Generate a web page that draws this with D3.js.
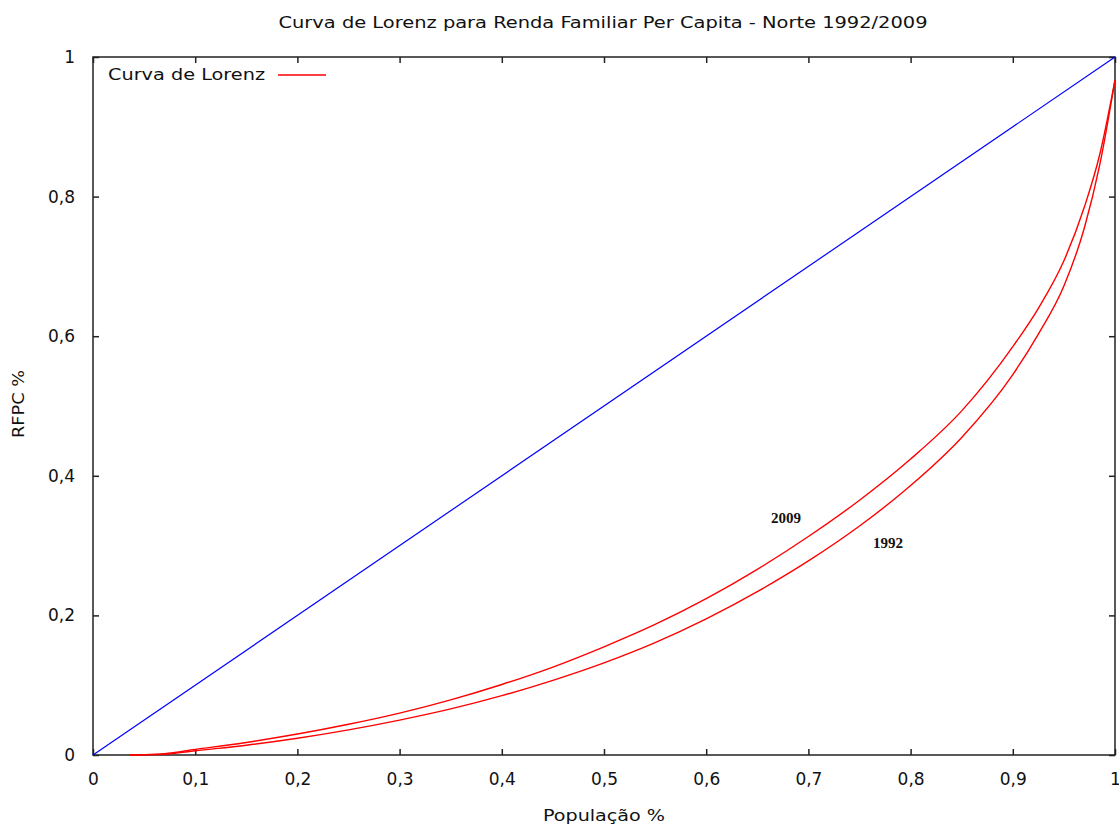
<!DOCTYPE html>
<html>
<head>
<meta charset="utf-8">
<script src="https://cdn.jsdelivr.net/npm/d3@7"></script>
<style>
  body { margin: 0; background: #fff; }
  text { font-family: "DejaVu Sans", Verdana, sans-serif; fill: #111; }
</style>
</head>
<body>
<div class="canvas"></div>
<script>
// data
const pop = [0.036, 0.07, 0.1, 0.15, 0.2, 0.25, 0.3, 0.35, 0.4, 0.45, 0.5, 0.55, 0.6, 0.65, 0.7, 0.75, 0.8, 0.85, 0.9, 0.925, 0.95, 0.97, 0.985, 1.0];
const rend2009 = [0, 0.002, 0.008, 0.018, 0.030, 0.044, 0.060, 0.079, 0.101, 0.126, 0.155, 0.187, 0.224, 0.266, 0.313, 0.365, 0.424, 0.493, 0.585, 0.640, 0.708, 0.785, 0.860, 0.967];
const rend1992 = [0, 0.001, 0.006, 0.014, 0.024, 0.036, 0.050, 0.066, 0.085, 0.107, 0.132, 0.161, 0.195, 0.234, 0.278, 0.328, 0.386, 0.455, 0.545, 0.603, 0.672, 0.755, 0.845, 0.967];
const equality = [0, 1];
const xTicks = [0, 0.1, 0.2, 0.3, 0.4, 0.5, 0.6, 0.7, 0.8, 0.9, 1];
const yTicks = [0, 0.2, 0.4, 0.6, 0.8, 1];

const width = 1119, height = 824;
const margin = { top: 57, right: 4, bottom: 69, left: 93 };
const graphWidth = width - margin.left - margin.right;
const graphHeight = height - margin.top - margin.bottom;

const svg = d3.select('.canvas')
    .append('svg')
    .attr('width', width)
    .attr('height', height);

const graph = svg.append('g')
    .attr('transform', `translate(${margin.left}, ${margin.top})`);

const x = d3.scaleLinear().domain([0, 1]).range([0, graphWidth]);
const y = d3.scaleLinear().domain([0, 1]).range([graphHeight, 0]);

const fmt = d => String(d).replace('.', ',');

// axes (ticks point inward, mirrored on top/right)
const styleAxis = g => {
    g.select('.domain').remove();
    g.selectAll('line').attr('stroke', '#222').attr('stroke-width', 1.5);
    g.selectAll('text').attr('font-size', 17).attr('fill', '#111');
};

graph.append('g')
    .attr('transform', `translate(0,${graphHeight})`)
    .call(d3.axisBottom(x).tickValues(xTicks).tickSize(-6).tickPadding(18).tickFormat(fmt))
    .call(styleAxis);
graph.append('g')
    .call(d3.axisTop(x).tickValues(xTicks).tickSize(-6).tickFormat(''))
    .call(styleAxis);
graph.append('g')
    .call(d3.axisLeft(y).tickValues(yTicks).tickSize(-6).tickPadding(18).tickFormat(fmt))
    .call(styleAxis);
graph.append('g')
    .attr('transform', `translate(${graphWidth},0)`)
    .call(d3.axisRight(y).tickValues(yTicks).tickSize(-6).tickFormat(''))
    .call(styleAxis);

// frame
graph.append('rect')
    .attr('width', graphWidth)
    .attr('height', graphHeight)
    .attr('fill', 'none')
    .attr('stroke', '#222')
    .attr('stroke-width', 1.5);

const line = d3.line()
    .x(d => x(d[0]))
    .y(d => y(d[1]))
    .curve(d3.curveMonotoneX);

graph.append('path')
    .datum(equality.map(v => [v, v]))
    .attr('d', d3.line().x(d => x(d[0])).y(d => y(d[1])))
    .attr('fill', 'none')
    .attr('stroke', '#0000ff')
    .attr('stroke-width', 1.2);

graph.append('path')
    .datum(pop.map((p, i) => [p, rend1992[i]]))
    .attr('d', line)
    .attr('fill', 'none')
    .attr('stroke', '#ff0000')
    .attr('stroke-width', 1.4);

graph.append('path')
    .datum(pop.map((p, i) => [p, rend2009[i]]))
    .attr('d', line)
    .attr('fill', 'none')
    .attr('stroke', '#ff0000')
    .attr('stroke-width', 1.4);

// year labels (serif, as in the original)
graph.append('text')
    .attr('x', x(0.678)).attr('y', y(0.332))
    .style('font-family', '"Liberation Serif", "Times New Roman", serif')
    .attr('font-weight', 'bold')
    .attr('font-size', 15)
    .attr('text-anchor', 'middle')
    .text('2009');
graph.append('text')
    .attr('x', x(0.778)).attr('y', y(0.296))
    .style('font-family', '"Liberation Serif", "Times New Roman", serif')
    .attr('font-weight', 'bold')
    .attr('font-size', 15)
    .attr('text-anchor', 'middle')
    .text('1992');

// legend
const legend = graph.append('g').attr('transform', 'translate(15, 18)');
legend.append('text')
    .attr('x', 0).attr('y', 5)
    .attr('font-size', 16)
    .attr('textLength', 157)
    .attr('lengthAdjust', 'spacingAndGlyphs')
    .text('Curva de Lorenz');
legend.append('line')
    .attr('x1', 170).attr('x2', 218)
    .attr('y1', 0).attr('y2', 0)
    .attr('stroke', '#ff0000')
    .attr('stroke-width', 1.4);

// title and axis labels
svg.append('text')
    .attr('x', 603).attr('y', 28)
    .attr('text-anchor', 'middle')
    .attr('font-size', 16)
    .attr('textLength', 649)
    .attr('lengthAdjust', 'spacingAndGlyphs')
    .text('Curva de Lorenz para Renda Familiar Per Capita - Norte 1992/2009');

svg.append('text')
    .attr('x', 604).attr('y', 821)
    .attr('text-anchor', 'middle')
    .attr('font-size', 16)
    .attr('textLength', 122)
    .attr('lengthAdjust', 'spacingAndGlyphs')
    .text('População %');

svg.append('text')
    .attr('transform', 'translate(24, 404) rotate(-90)')
    .attr('text-anchor', 'middle')
    .attr('font-size', 16)
    .attr('textLength', 68)
    .attr('lengthAdjust', 'spacingAndGlyphs')
    .text('RFPC %');
</script>
</body>
</html>
